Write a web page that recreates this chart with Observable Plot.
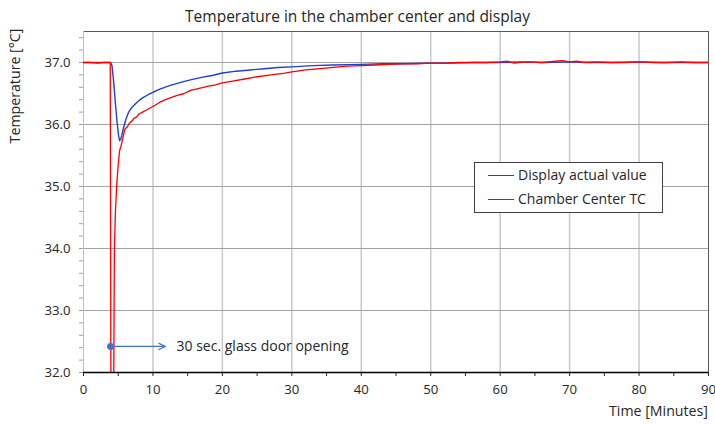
<!DOCTYPE html>
<html>
<head>
<meta charset="utf-8">
<script src="https://cdn.jsdelivr.net/npm/d3@7"></script>
<script src="https://cdn.jsdelivr.net/npm/@observablehq/plot@0.6"></script>
<style>
  body { margin: 0; background: #fff; }
  #wrap { position: relative; width: 715px; height: 426px; font-family: "Open Sans", sans-serif; color: #262626; }
  .ov { position: absolute; white-space: nowrap; line-height: 1; }
  #title { left: 0; width: 715px; top: 9px; text-align: center; font-size: 15.5px; }
  #ylab { left: 15px; top: 86px; font-size: 14.2px; transform: translate(-50%, -50%) rotate(-90deg); }
  #xlab { right: 7px; top: 404px; font-size: 14.2px; }
  #legend { left: 474px; top: 162px; width: 187px; height: 49px; border: 1px solid #3f3f4f; background: #fff; font-size: 14px; }
  .lr { position: absolute; left: 13px; display: flex; align-items: center; line-height: 1; }
  .sw { width: 26px; height: 0; border-top: 1.5px solid; margin-right: 4px; }
</style>
</head>
<body>
<div id="wrap">
  <div id="chart"></div>
  <div class="ov" id="title">Temperature in the chamber center and display</div>
  <div class="ov" id="ylab">Temperature [°C]</div>
  <div class="ov" id="xlab">Time [Minutes]</div>
  <div class="ov" id="legend">
    <div class="lr" style="top:5px"><div class="sw" style="border-color:#1f3fd0"></div><span>Display actual value</span></div>
    <div class="lr" style="top:29px"><div class="sw" style="border-color:#ff0000"></div><span>Chamber Center TC</span></div>
  </div>
</div>
<script>
// Display actual value (blue)
const displayTime = [0,1,2,3,3.5,3.9,4.1,4.37,4.6,4.85,5.05,5.2,5.35,5.5,5.8,6.1,6.5,7.0,7.7,8.5,9.3,10,11,12.5,14,15.4,17,18.5,20,22,24,26,28,30,33,36,40,43,46,50,53,56,60,63,66,70,73,76,80,83,86,90];
const displayValue = [37.0,37.0,36.99,37.0,37.0,37.0,36.95,36.66,36.33,36.02,35.82,35.74,35.76,35.82,35.96,36.08,36.2,36.28,36.36,36.43,36.48,36.52,36.57,36.63,36.68,36.72,36.76,36.79,36.83,36.86,36.88,36.9,36.92,36.93,36.95,36.96,36.97,36.98,36.98,36.99,36.99,37.0,37.0,37.01,37.0,37.01,37.0,37.0,37.01,37.0,37.0,37.0];
// Chamber Center TC (red)
const chamberTime = [0,1,2,3,3.85,3.95,4.15,4.36,4.45,4.6,4.8,5.0,5.2,5.4,5.6,5.8,6.0,6.3,6.6,7.0,7.25,7.6,8.0,8.5,9.0,9.65,10.3,11,11.8,12.5,13.5,14.5,15.4,16.5,18,19,20,21.5,23,25,27,29,30,32,34,36,38,40,42,44,46,48,50,52,54,56,58,60,61,62,64,66,68,69,70,71,72,74,76,78,80,82,84,86,88,90];
const chamberValue = [37.0,37.0,37.0,37.0,37.0,31.5,30.0,32.0,34.0,34.6,35.05,35.35,35.58,35.65,35.75,35.85,35.93,35.96,36.02,36.06,36.1,36.12,36.17,36.2,36.23,36.27,36.31,36.36,36.4,36.43,36.47,36.5,36.55,36.58,36.62,36.64,36.67,36.7,36.73,36.77,36.8,36.83,36.85,36.88,36.9,36.92,36.94,36.95,36.96,36.97,36.98,36.98,36.99,36.99,37.0,37.0,37.0,37.01,37.02,36.99,37.01,37.0,37.02,37.03,37.01,37.02,37.0,37.01,37.0,37.0,37.01,37.0,37.0,37.01,37.0,37.0];
// Axis ticks
const xTickLabels = [0,10,20,30,40,50,60,70,80,90];
const xMinorTicks = [0,5,10,15,20,25,30,35,40,45,50,55,60,65,70,75,80,85,90];
const yTickLabels = [32,33,34,35,36,37];
const yMinorTicks = d3.range(0,28).map(i => +(32 + i*0.2).toFixed(1));
// Annotation
const noteText = ["30 sec. glass door opening"];
const noteStart = [{x: 3.9, y: 32.42}];
const noteArrow = [{x1: 4.3, x2: 11.8, y: 32.42}];
const noteLabel = [{x: 13.4, y: 32.42, text: noteText[0]}];

const display = displayTime.map((t,i) => ({t, v: displayValue[i]}));
const chamber = chamberTime.map((t,i) => ({t, v: chamberValue[i]}));

const chart = Plot.plot({
  width: 715, height: 426,
  marginLeft: 83, marginRight: 7, marginTop: 31, marginBottom: 54,
  x: {domain: [0, 90]},
  y: {domain: [32, 37.5]},
  style: {fontFamily: "Open Sans, sans-serif", fontSize: "13px", color: "#262626", background: "#fff"},
  marks: [
    Plot.gridX(xTickLabels.filter(d => d > 0 && d < 90), {stroke: "#c8c8c8", strokeWidth: 1.5, strokeOpacity: 1}),
    Plot.gridY(yTickLabels.filter(d => d > 32), {stroke: "#a3a3a3", strokeWidth: 1.2, strokeOpacity: 1}),
    Plot.ruleY([37.5], {stroke: "#595959", strokeWidth: 1}),
    Plot.ruleX([90], {stroke: "#595959", strokeWidth: 1}),
    Plot.ruleX([0], {stroke: "#bfbfbf", strokeWidth: 1}),
    Plot.axisY(yMinorTicks, {tickSize: 4, text: null, stroke: "#a3a3a3", label: null}),
    Plot.axisY(yTickLabels, {tickSize: 0, tickPadding: 13, tickFormat: d3.format(".1f"), label: null, fontSize: 13.2}),
    Plot.axisX(xMinorTicks, {tickSize: 4, text: null, stroke: "#262626", label: null}),
    Plot.axisX(xTickLabels, {tickSize: 0, tickPadding: 12, label: null, fontSize: 13.2}),
    Plot.lineY(display, {x: "t", y: "v", stroke: "#1f3fd0", strokeWidth: 1.4, clip: true}),
    Plot.lineY(chamber, {x: "t", y: "v", stroke: "#ff0000", strokeWidth: 1.3, clip: true}),
    Plot.ruleY([32], {stroke: "#000", strokeWidth: 1.5}),
    Plot.arrow(noteArrow, {x1: "x1", x2: "x2", y1: "y", y2: "y", stroke: "#4472c4", strokeWidth: 1.2, headLength: 9, headAngle: 50}),
    Plot.dot(noteStart, {x: "x", y: "y", r: 3.5, fill: "#4472c4"}),
    Plot.text(noteLabel, {x: "x", y: "y", text: "text", textAnchor: "start", fontSize: 14, fill: "#262626"})
  ]
});
document.getElementById("chart").appendChild(chart);
</script>
</body>
</html>
